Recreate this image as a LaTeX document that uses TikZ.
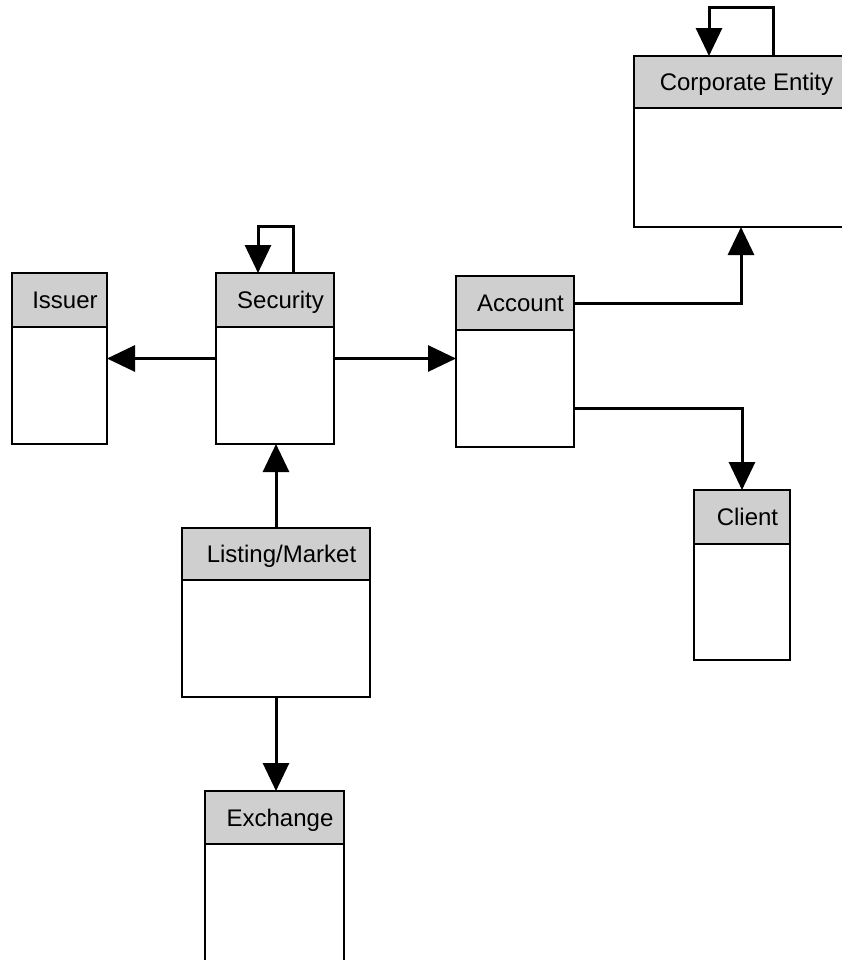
\documentclass[tikz,border=0pt]{standalone}
\usepackage{fontspec}
\setmainfont{Liberation Sans}
\usetikzlibrary{arrows.meta,fit}
\definecolor{headgray}{RGB}{207,207,207}
\definecolor{inkblack}{RGB}{0,0,0}

% class box: name, left, top, right, header bottom, bottom, title
\newcommand\classbox[7]{%
  \path (#2,#3) coordinate (#1-nw) (#4,#6) coordinate (#1-se) (#4,#5) coordinate (#1-hse);
  \node[classbody, fit=(#1-nw)(#1-se)] (#1) {};
  \node[classhead, fit=(#1-nw)(#1-hse)] (#1h) {};
  \node[classlabel] (#1t) at ([xshift=2.75pt,yshift=-4.4pt]#1h.center) {#7};
}

\begin{document}
\begin{tikzpicture}[x=0.5pt,y=-0.5pt,
  classbody/.style={draw=inkblack, fill=white, line width=1pt, inner sep=0pt, outer sep=0pt},
  classhead/.style={draw=inkblack, fill=headgray, line width=1pt, inner sep=0pt, outer sep=0pt},
  classlabel/.style={inner sep=0pt, anchor=base, font=\fontsize{12pt}{14pt}\selectfont, text=inkblack},
  conn/.style={draw=inkblack, line width=1.5pt, line join=miter,
    -{Triangle[length=14pt,width=13pt]}}]
\useasboundingbox (0,0) rectangle (842,960);
\clip (0,0) rectangle (842,960);

\classbox{issuer}{12}{273}{107}{327}{444}{Issuer}
\classbox{security}{216}{273}{334}{327}{444}{Security}
\classbox{account}{456}{276}{574}{330}{447}{Account}
\classbox{corp}{634}{56}{848}{108}{227}{Corporate Entity}
\classbox{client}{694}{490}{790}{544}{660}{Client}
\classbox{listing}{182}{528}{370}{580}{697}{Listing/Market}
\classbox{exchange}{205}{791}{344}{844}{975}{Exchange}

% self-associations
\coordinate (corpLoopR) at (773,7);
\coordinate (corpLoopL) at (709,7);
\draw[conn] (corph.north -| corpLoopR) -- (corpLoopR) -- (corpLoopL) -- (corph.north -| corpLoopL);

\coordinate (secLoopR) at (293,226);
\coordinate (secLoopL) at (258,226);
\draw[conn] (securityh.north -| secLoopR) -- (secLoopR) -- (secLoopL) -- (securityh.north -| secLoopL);

% associations between classes
\draw[conn] (security.west) -- (security.west -| issuer.east);
\draw[conn] (security.east) -- (security.east -| account.west);
\draw[conn] (accounth.east) -| (corp.south);
\coordinate (accLow) at (574,408);
\draw[conn] (accLow) -| (client.north);
\draw[conn] (listing.north) -- (listing.north |- security.south);
\draw[conn] (listing.south) -- (listing.south |- exchange.north);
\end{tikzpicture}
\end{document}
